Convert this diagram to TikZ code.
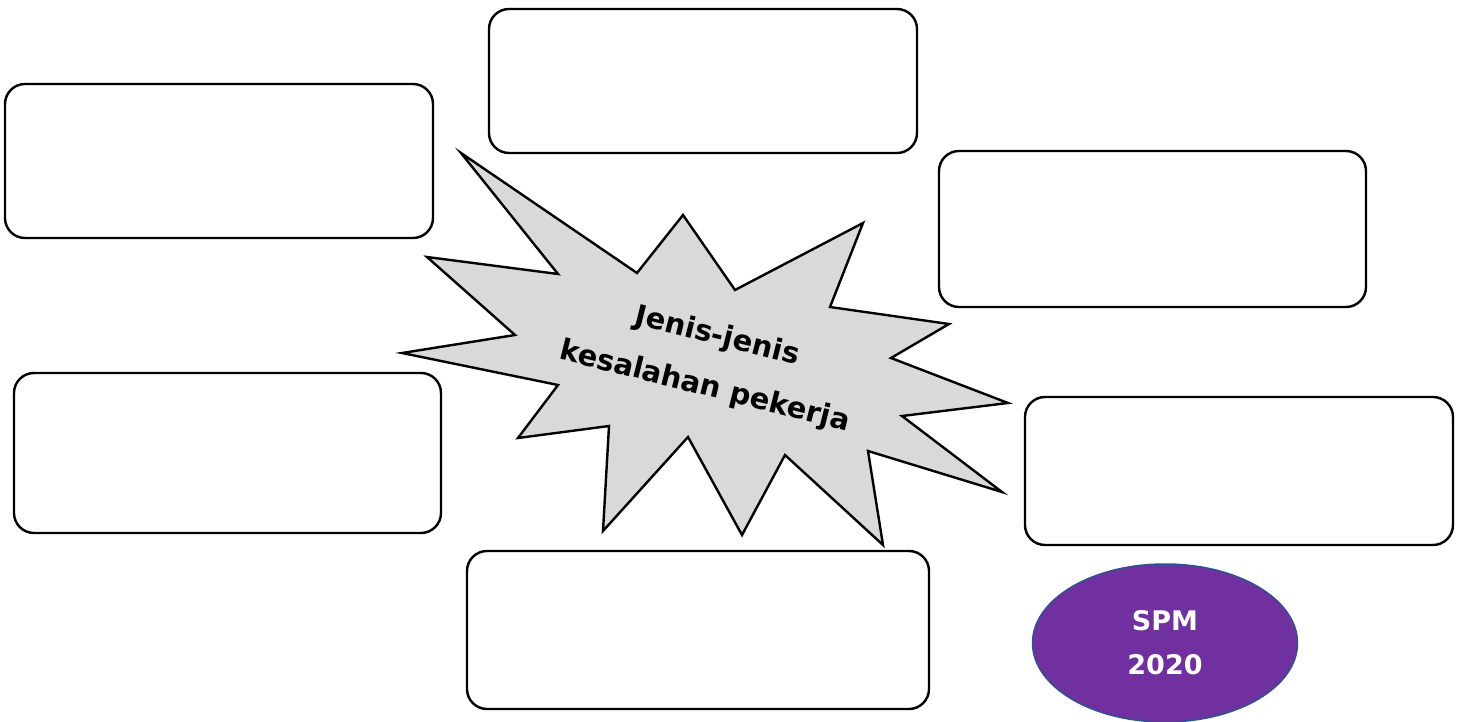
\documentclass[tikz,border=0pt]{standalone}
\usepackage{fontspec}
\setmainfont{DejaVu Sans}
\usetikzlibrary{shapes.geometric}
\definecolor{burstgray}{RGB}{217,217,217}
\definecolor{spmpurple}{RGB}{112,48,160}
\definecolor{spmedge}{RGB}{47,82,143}
\tikzset{
  ansbox/.style={draw=black, line width=2.4pt, rounded corners=20pt, rectangle, inner sep=0pt, fill=white},
  burst/.style={draw=black, line width=2.4pt, fill=burstgray, line join=miter},
}
\begin{document}
\begin{tikzpicture}[x=1pt,y=-1pt]
\useasboundingbox (0,0) rectangle (1457,722);
% answer boxes
\node[ansbox, minimum width=428pt, minimum height=144pt] (top) at (703,81) {};
\node[ansbox, minimum width=428pt, minimum height=154pt] (lt) at (219,161) {};
\node[ansbox, minimum width=427pt, minimum height=156pt] (rt) at (1152.5,229) {};
\node[ansbox, minimum width=427pt, minimum height=160pt] (lb) at (227.5,453) {};
\node[ansbox, minimum width=428pt, minimum height=148pt] (rb) at (1239,471) {};
\node[ansbox, minimum width=462pt, minimum height=158pt] (bot) at (698,630) {};
% starburst
\draw[burst] (461,153) -- (558,274) -- (427,257) -- (515,335) -- (402,353)
  -- (558,385) -- (518,438) -- (609,426) -- (603,531) -- (688,437)
  -- (742,535) -- (785,455) -- (883,545) -- (868,451) -- (1002,492)
  -- (902,416) -- (1008,403) -- (891,358) -- (949,324) -- (830,307)
  -- (863,223) -- (735,290) -- (683,215) -- (637,273) -- cycle;
\node[rotate=-14, align=center, font=\fontsize{29}{52}\selectfont\bfseries] (title) at (711,362)
  {Jenis-jenis\\kesalahan pekerja};
% SPM ellipse
\node[ellipse, draw=spmedge, line width=1.5pt, fill=spmpurple, minimum width=265pt, minimum height=158pt,
  inner sep=0pt, text=white, align=center, font=\fontsize{27}{44}\selectfont\bfseries] (spm) at (1165,643)
  {SPM\\2020};
\end{tikzpicture}
\end{document}
